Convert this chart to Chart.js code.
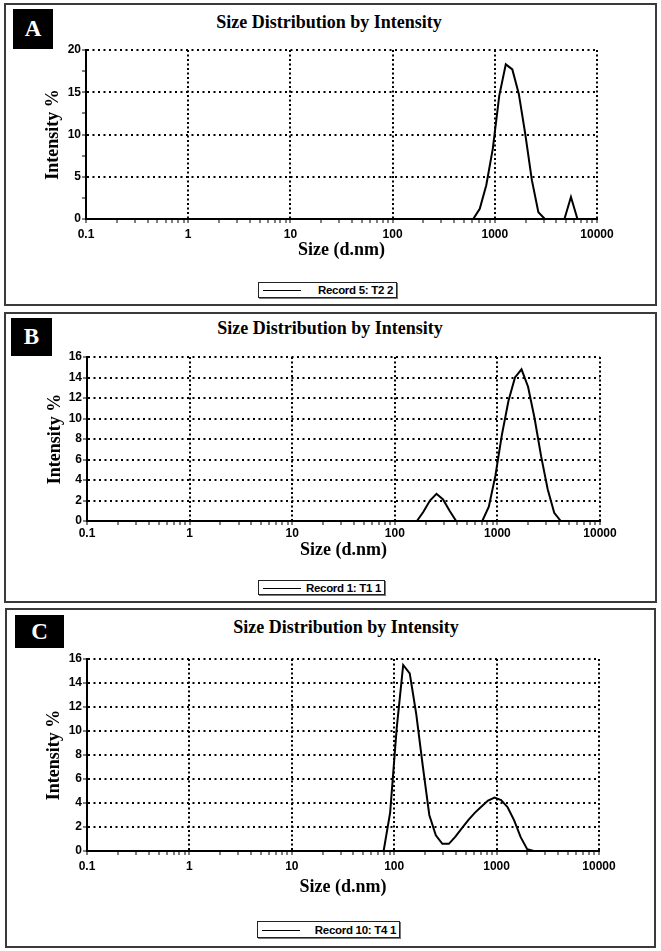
<!DOCTYPE html>
<html>
<head>
<meta charset="utf-8">
<script src="https://cdn.jsdelivr.net/npm/chart.js@4.4.1/dist/chart.umd.min.js"></script>
<style>
  html, body { margin: 0; padding: 0; background: #fff; }
  body { width: 661px; height: 951px; position: relative; overflow: hidden; }
  .panel { position: absolute; border: 2px solid #3a3a3a; box-sizing: border-box; }
  .tag { position: absolute; background: #000; color: #fff; font: bold 23px "Liberation Serif", serif;
         display: flex; align-items: center; justify-content: center; }
  .title { position: absolute; font: bold 18px "Liberation Serif", serif; transform: translate(-50%, -50%);
           white-space: nowrap; color: #000; }
  .legend { position: absolute; border: 1.5px solid #222; box-shadow: 1px 1px 0 #777; box-sizing: border-box;
            font: bold 11.5px "Liberation Sans", Arial, sans-serif; color: #000; }
  .legend .swatch { position: absolute; left: 4px; top: 50%; width: 38px; border-top: 1.5px solid #000; }
  .legend .txt { position: absolute; right: 3px; top: 50%; transform: translateY(-50%); white-space: nowrap; letter-spacing: -0.3px; }
  canvas { position: absolute; left: 0; }
</style>
</head>
<body>
<script>
// size (d.nm) and intensity (%)
var sizesA = [0.4, 615.1, 712.4, 825.0, 955.4, 1106, 1281, 1484, 1718, 1990, 2305, 2669, 3091, 4801, 5560, 6439, 10000];
var intensityA = [0, 0, 1.2, 4.0, 8.3, 14.6, 18.3, 17.7, 14.8, 10.0, 4.6, 0.8, 0, 0, 2.6, 0, 0];

var sizesB = [0.4, 164.2, 190.1, 220.2, 255.0, 295.3, 342.0, 396.1, 712.4, 825.0, 955.4, 1106, 1281, 1484, 1718, 1990, 2305, 2669, 3091, 3580, 4145, 10000];
var intensityB = [0, 0, 0.9, 2.0, 2.65, 2.1, 1.0, 0, 0, 1.4, 4.4, 8.4, 11.7, 14.0, 14.8, 13.1, 10.0, 6.3, 3.1, 0.8, 0, 0];

var sizesC = [0.4, 78.82, 91.28, 105.7, 122.4, 141.8, 164.2, 190.1, 220.2, 255.0, 295.3, 342.0, 396.1, 458.7, 531.2, 615.1, 712.4, 825.0, 955.4, 1106, 1281, 1484, 1718, 1990, 2305, 10000];
var intensityC = [0, 0, 3.2, 10.2, 15.5, 14.8, 11.4, 7.1, 3.0, 1.3, 0.6, 0.6, 1.2, 1.9, 2.6, 3.2, 3.7, 4.2, 4.45, 4.25, 3.65, 2.55, 1.15, 0.15, 0, 0];

var xTickLabels = ["0.1", "1", "10", "100", "1000", "10000"];
var chartTitle = "Size Distribution by Intensity";
var xTitle = "Size (d.nm)";
var yTitle = "Intensity %";

var panels = [
  {tag: "A", box: [4, 3, 653, 303], tagBox: [13, 9, 40, 40], titleX: 329, titleY: 22,
   plot: {left: 86, right: 597, top: 50, bottom: 219}, xTitleY: 250, yTitleX: 54, tickPad: 5,
   legendBox: [258, 282, 139, 16], record: "Record 5: T2 2",
   sizes: sizesA, values: intensityA, yMax: 20, yStep: 2.5, yMajor: 5},
  {tag: "B", box: [4, 312, 653, 291], tagBox: [11, 318, 41, 38], titleX: 330, titleY: 328,
   plot: {left: 87, right: 600, top: 357, bottom: 521}, xTitleY: 550, yTitleX: 56, tickPad: 2,
   legendBox: [258, 580, 127, 15], record: "Record 1: T1 1",
   sizes: sizesB, values: intensityB, yMax: 16, yStep: 1, yMajor: 2},
  {tag: "C", box: [5, 608, 651, 340], tagBox: [15, 615, 49, 33], titleX: 346, titleY: 627,
   plot: {left: 87, right: 599, top: 659, bottom: 851}, xTitleY: 887, yTitleX: 55, tickPad: 5,
   legendBox: [257, 921, 143, 17], record: "Record 10: T4 1",
   sizes: sizesC, values: intensityC, yMax: 16, yStep: 1, yMajor: 2}
];

function isDecade(v) {
  if (!v) return false;
  var lg = Math.log10(v);
  return Math.abs(lg - Math.round(lg)) < 1e-6;
}

function el(cls, x, y, w, h) {
  var d = document.createElement("div");
  d.className = cls;
  d.style.left = x + "px"; d.style.top = y + "px";
  if (w != null) { d.style.width = w + "px"; d.style.height = h + "px"; }
  document.body.appendChild(d);
  return d;
}

panels.forEach(function (p) {
  el("panel", p.box[0], p.box[1], p.box[2], p.box[3]);
  el("tag", p.tagBox[0], p.tagBox[1], p.tagBox[2], p.tagBox[3]).textContent = p.tag;
  el("title", p.titleX, p.titleY).textContent = chartTitle;
  var lg = el("legend", p.legendBox[0], p.legendBox[1], p.legendBox[2], p.legendBox[3]);
  lg.innerHTML = '<span class="swatch"></span><span class="txt"></span>';
  lg.querySelector(".txt").textContent = p.record;

  var top = p.box[1], H = p.box[3];
  var canvas = document.createElement("canvas");
  canvas.width = 661; canvas.height = H;
  canvas.style.top = top + "px";
  document.body.appendChild(canvas);

  var axisBottom = p.xTitleY + 11;
  var points = p.sizes.map(function (s, i) { return {x: s, y: p.values[i]}; });

  new Chart(canvas, {
    type: "line",
    data: {
      datasets: [{
        label: p.record,
        data: points,
        borderColor: "#000",
        borderWidth: 2,
        pointRadius: 0,
        tension: 0,
        fill: false
      }]
    },
    options: {
      responsive: false,
      animation: false,
      devicePixelRatio: 1,
      layout: {padding: {top: p.plot.top - top, left: 0, right: 661 - p.plot.right, bottom: top + H - axisBottom}},
      plugins: {legend: {display: false}, title: {display: false}, tooltip: {enabled: false}},
      scales: {
        x: {
          type: "logarithmic",
          min: 0.1, max: 10000,
          afterBuildTicks: function (axis) {
            axis.ticks = axis.ticks.filter(function (t) {
              var m = t.value / Math.pow(10, Math.floor(Math.log10(t.value) + 1e-9));
              return Math.abs(m - Math.round(m)) < 1e-6;
            });
          },
          afterFit: function (s) { s.height = axisBottom - p.plot.bottom; },
          ticks: {
            autoSkip: false, maxRotation: 0, padding: p.tickPad - 1, color: "#000",
            font: {family: "Liberation Sans", size: 12, weight: "bold"},
            callback: function (v) {
              if (!isDecade(v)) return "";
              return xTickLabels[Math.round(Math.log10(v)) + 1];
            }
          },
          grid: {
            color: function (c) { return c.tick && isDecade(c.tick.value) ? "#000" : "rgba(0,0,0,0)"; },
            lineWidth: 2, tickColor: "#000", tickLength: 4, tickWidth: 1, tickBorderDash: []
          },
          border: {display: true, color: "#000", width: 2, dash: [2, 2.5]},
          title: {display: true, text: xTitle, color: "#000", padding: 0,
                  font: {family: "Liberation Serif", size: 18, weight: "bold"}}
        },
        y: {
          min: 0, max: p.yMax,
          afterFit: function (s) { s.width = p.plot.left; },
          ticks: {
            stepSize: p.yStep, padding: 1, color: "#000",
            font: {family: "Liberation Sans", size: 12, weight: "bold"},
            callback: function (v) { return v % p.yMajor === 0 ? String(v) : ""; }
          },
          grid: {
            color: function (c) { return c.tick && c.tick.value % p.yMajor === 0 ? "#000" : "rgba(0,0,0,0)"; },
            lineWidth: 2, tickColor: "#000", tickLength: 4, tickWidth: 1, tickBorderDash: []
          },
          border: {display: true, color: "#000", width: 2, dash: [2, 3.5]},
          title: {display: true, text: yTitle, color: "#000", padding: {top: p.yTitleX - 11, bottom: 0},
                  font: {family: "Liberation Serif", size: 18, weight: "bold"}}
        }
      }
    }
  });
});
</script>
</body>
</html>
